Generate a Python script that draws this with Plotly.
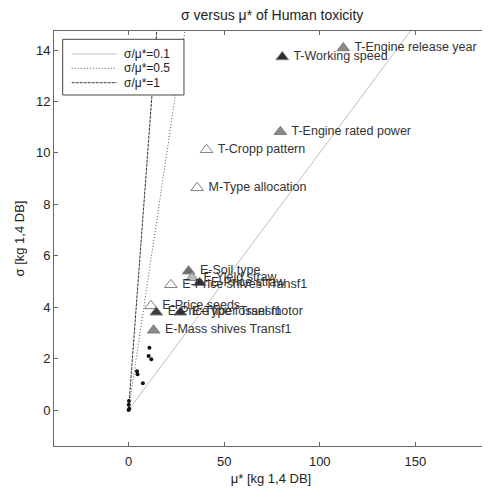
import plotly.graph_objects as go

# Factor data (mu*, sigma)
labels = ["T-Engine release year", "T-Working speed", "T-Engine rated power",
          "T-Cropp pattern", "M-Type allocation", "E-Soil type", "E-Yield straw",
          "E-Price straw", "E-Price shives Transf1", "E-Price seeds",
          "E-Price fiber Transf1", "E-Type fossel motor", "E-Mass shives Transf1"]
mu_star = [112.3, 80.4, 79.4, 40.8, 35.9, 31.4, 33.2, 37.2, 22.1, 11.7, 14.5, 27.1, 13.1]
sigma = [14.08, 13.73, 10.82, 10.12, 8.64, 5.40, 5.14, 4.95, 4.87, 4.05, 3.80, 3.80, 3.10]
fill_colors = ["#8a8a8a", "#2e2e2e", "#8a8a8a", "#ffffff", "#ffffff", "#6e6e6e", "#bdbdbd",
               "#2e2e2e", "#ffffff", "#ffffff", "#3a3a3a", "#2e2e2e", "#8a8a8a"]

# unlabeled minor factors (small dots)
dot_mu = [10.9, 10.5, 11.9, 4.4, 4.7, 7.5, 0.4, 0.0, 0.1, 0.2]
dot_sigma = [2.42, 2.10, 1.97, 1.51, 1.39, 1.04, 0.05, 0.0, 0.2, 0.35]

# reference lines sigma/mu* = ratio
ratios = [0.1, 0.5, 1]
ratio_names = ["σ/μ*=0.1", "σ/μ*=0.5", "σ/μ*=1"]
ratio_colors = ["#c0c0c0", "#555555", "#333333"]
ratio_dash = ["solid", "1px,2px", "3px,1px"]
sigma_top = 20

fig = go.Figure()
for r, nm, c, d in zip(ratios, ratio_names, ratio_colors, ratio_dash):
    fig.add_trace(go.Scatter(x=[0, sigma_top / r], y=[0, sigma_top], mode="lines",
                             name=nm, showlegend=False,
                             line=dict(color=c, width=1, dash=d)))

fig.add_trace(go.Scatter(x=dot_mu, y=dot_sigma, mode="markers", showlegend=False,
                         marker=dict(size=4, color="#111111")))

fig.add_trace(go.Scatter(x=mu_star, y=sigma, mode="markers+text", showlegend=False,
                         text=[" " + t for t in labels], textposition="middle right",
                         textfont=dict(size=12.5, color="#333333", family="Liberation Sans, Arial"),
                         marker=dict(symbol="triangle-up", size=11, color=fill_colors,
                                     line=dict(color="#808080", width=1))))

# legend box drawn in paper coordinates (compact, like the original)
leg_x0, leg_x1, leg_y0, leg_y1 = 0.020, 0.2995, 0.8458, 0.980
fig.add_shape(type="rect", xref="paper", yref="paper", x0=leg_x0, x1=leg_x1,
              y0=leg_y0, y1=leg_y1, line=dict(color="#444444", width=1),
              fillcolor="white", layer="above")
row_y = [0.9446, 0.9101, 0.8754]
for yy, nm, c, d in zip(row_y, ratio_names, ratio_colors, ratio_dash):
    fig.add_shape(type="line", xref="paper", yref="paper", x0=0.0408, x1=0.1444,
                  y0=yy, y1=yy, line=dict(color=c, width=1, dash=d), layer="above")
    fig.add_annotation(xref="paper", yref="paper", x=0.156, y=yy, text=nm,
                       showarrow=False, xanchor="left", yanchor="middle",
                       font=dict(size=12, color="#222222"))

axis_common = dict(showline=True, linecolor="#666666", linewidth=1, mirror="ticks",
                   ticks="inside", ticklen=4, tickcolor="#666666", showgrid=False,
                   zeroline=False, automargin=False,
                   tickfont=dict(size=13, color="#222222"))

# page body adds an 8px offset, so the figure is 8px smaller and margins compensate
fig.update_layout(
    width=482, height=490,
    margin=dict(l=46, r=2, t=23, b=52),
    paper_bgcolor="white", plot_bgcolor="white",
    showlegend=False,
    font=dict(family="Liberation Sans, Arial", color="#222222"),
    title=dict(text="σ versus μ* of Human toxicity", x=0.548, xanchor="center",
               y=0.986, yanchor="middle", font=dict(size=14, color="#222222")),
    xaxis=dict(range=[-39, 188], tickvals=[0, 50, 100, 150], ticklabelstandoff=3,
               title=dict(text="μ* [kg 1,4 DB]", font=dict(size=13), standoff=6), **axis_common),
    yaxis=dict(range=[-1.4, 14.74], tickvals=[0, 2, 4, 6, 8, 10, 12, 14],
               title=dict(text="σ [kg 1,4 DB]", font=dict(size=13), standoff=8), **axis_common),
)

fig.write_html("out.html")
